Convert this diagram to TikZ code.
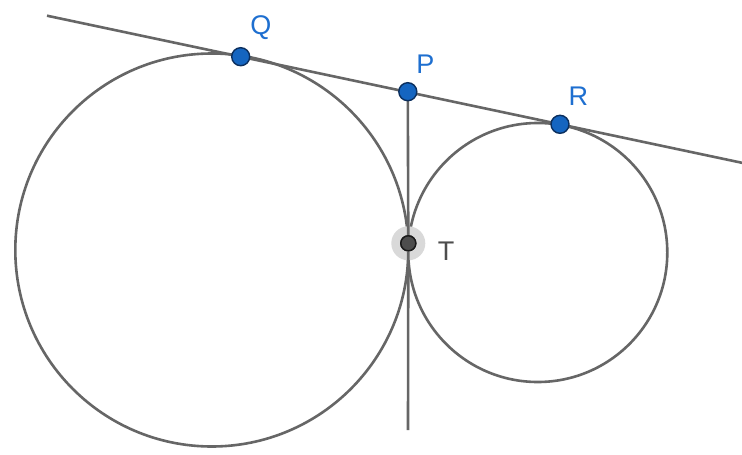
\documentclass[tikz,border=0pt]{standalone}
\usepackage{fontspec}
\setmainfont{Liberation Sans}
\begin{document}
\begin{tikzpicture}[x=1pt,y=-1pt,
  curve/.style={draw=ggray,line width=2.6pt},
  bluept/.style={circle,fill=ptblue,draw=ptedge,line width=1.4pt,minimum size=18pt,inner sep=0pt},
  tpt/.style={circle,fill=tfill,draw=tedge,line width=1.4pt,minimum size=15pt,inner sep=0pt},
  lbl/.style={text=lblue,font=\fontsize{27}{27}\selectfont,inner sep=0pt},
]
\definecolor{ggray}{HTML}{666666}
\definecolor{ptblue}{HTML}{1565C0}
\definecolor{ptedge}{HTML}{0B2F5E}
\definecolor{lblue}{HTML}{1E6FD0}
\definecolor{tfill}{HTML}{4D4D4D}
\definecolor{tedge}{HTML}{1A1A1A}
\definecolor{halo}{HTML}{D9D9D9}
\useasboundingbox[fill=white] (0,0) rectangle (742,455);
% circles
\draw[curve] (211.8,250) circle[radius=196.5];
\draw[curve] (537.8,252.5) circle[radius=129.5];
% points
\coordinate (L) at (47,15.7);
\coordinate (E) at (742,162.8);
\coordinate (B) at (408,430);
\draw[curve] (L) -- (E);
\fill[halo] (408.3,243.3) circle[radius=17];
\node[tpt] (T) at (408.3,243.3) {};
\draw[curve] (407.8,91.7) -- (T) -- (B);
\node[tpt] (T2) at (408.3,243.3) {};
\node[bluept] (Q) at (240.7,56.7) {};
\node[bluept] (P) at (407.8,91.7) {};
\node[bluept] (R) at (560,124.3) {};
\node[lbl] (lQ) at (260.8,28) {Q};
\node[lbl] (lP) at (425.5,64) {P};
\node[lbl] (lR) at (578.3,96) {R};
\node[lbl,text=tfill] (lT) at (446,251) {T};
\end{tikzpicture}
\end{document}
